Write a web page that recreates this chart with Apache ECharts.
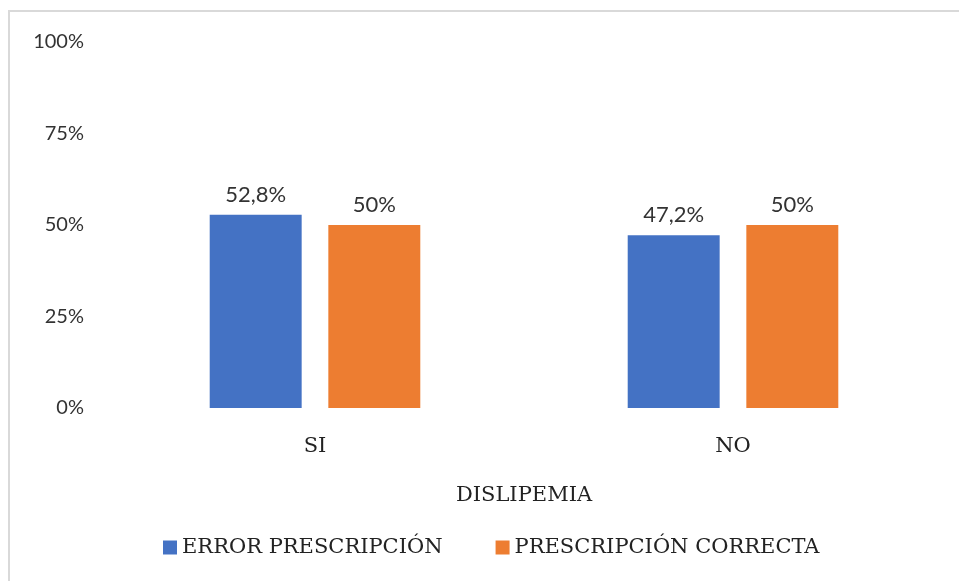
<!DOCTYPE html>
<html>
<head>
<meta charset="utf-8">
<script src="https://cdn.jsdelivr.net/npm/echarts@6/dist/echarts.min.js"></script>
<style>
  html, body { margin: 0; padding: 0; background: #ffffff; }
  #chart { width: 959px; height: 581px; }
</style>
</head>
<body>
<div id="chart"></div>
<script>
// Dislipemia vs. prescription outcome (percent of each group)
const categories = ['SI', 'NO'];
const errorPrescripcion = [52.8, 47.2];
const prescripcionCorrecta = [50, 50];
const seriesNames = ['ERROR PRESCRIPCIÓN', 'PRESCRIPCIÓN CORRECTA'];
const axisTitle = 'DISLIPEMIA';

const serif = '"DejaVu Serif", "Liberation Serif", serif';
const sans = 'Lato, "Liberation Sans", sans-serif';

const fmt = p => String(p.value).replace('.', ',') + '%';

const chart = echarts.init(document.getElementById('chart'));
chart.setOption({
  backgroundColor: '#ffffff',
  animation: false,
  graphic: [{
    type: 'polyline',
    shape: { points: [[9, 581], [9, 11], [959, 11]] },
    style: { stroke: '#d9d9d9', lineWidth: 2, fill: null }
  }],
  grid: { left: 106, right: 17, top: 42, bottom: 173, containLabel: false },
  legend: {
    left: 158,
    top: 532,
    itemWidth: 14,
    itemHeight: 14,
    itemGap: 53,
    itemTextGap: 7,
    icon: 'rect',
    textStyle: { fontFamily: serif, fontSize: 21, color: '#222' },
    data: seriesNames
  },
  xAxis: {
    type: 'category',
    data: categories,
    axisLine: { show: false },
    axisTick: { show: false },
    axisLabel: { margin: 28, fontFamily: serif, fontSize: 21, color: '#222' },
    name: axisTitle,
    nameLocation: 'middle',
    nameGap: 77,
    nameTextStyle: { fontFamily: serif, fontSize: 21, color: '#222' }
  },
  yAxis: {
    type: 'value',
    min: 0,
    max: 100,
    interval: 25,
    splitLine: { show: false },
    axisLine: { show: false },
    axisTick: { show: false },
    axisLabel: { margin: 22, formatter: '{value}%', fontFamily: sans, fontSize: 20, color: '#333' }
  },
  series: [
    {
      name: seriesNames[0],
      type: 'bar',
      data: errorPrescripcion,
      barWidth: '22%',
      barGap: '29%',
      itemStyle: { color: '#4472C4' },
      label: { show: true, position: 'top', distance: 9, formatter: fmt, fontFamily: sans, fontSize: 22, color: '#333' }
    },
    {
      name: seriesNames[1],
      type: 'bar',
      data: prescripcionCorrecta,
      barWidth: '22%',
      barGap: '29%',
      itemStyle: { color: '#ED7D31' },
      label: { show: true, position: 'top', distance: 9, formatter: fmt, fontFamily: sans, fontSize: 22, color: '#333' }
    }
  ]
});
</script>
</body>
</html>
